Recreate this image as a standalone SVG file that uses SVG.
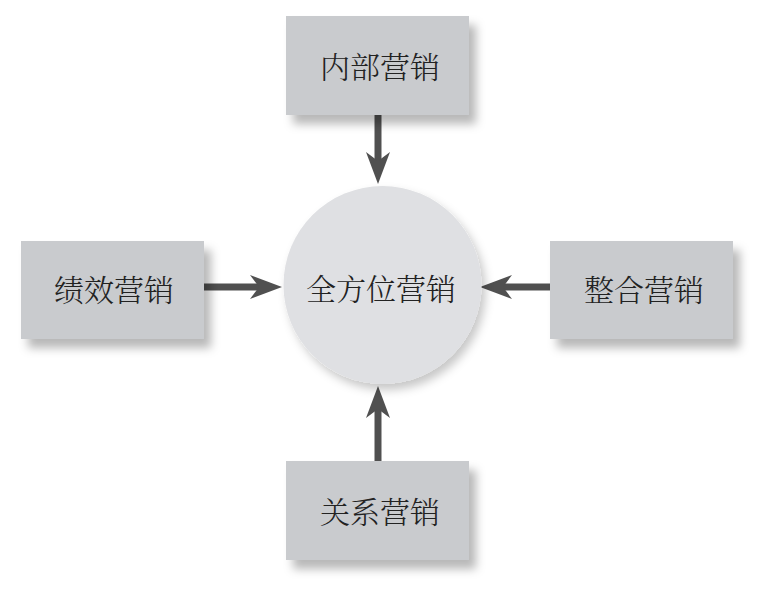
<svg xmlns="http://www.w3.org/2000/svg" width="779" height="598" viewBox="0 0 779 598">
<defs>
<filter id="sh" x="-20%" y="-20%" width="150%" height="160%">
<feDropShadow dx="7" dy="9" stdDeviation="5" flood-color="#000" flood-opacity="0.28"/>
</filter>
<filter id="shc" x="-20%" y="-20%" width="150%" height="150%">
<feDropShadow dx="4" dy="6" stdDeviation="5" flood-color="#000" flood-opacity="0.22"/>
</filter>
<marker id="ah" markerUnits="userSpaceOnUse" markerWidth="32" markerHeight="26" viewBox="0 0 32 26" refX="18" refY="13" orient="auto">
<path d="M0,1 L32,13 L0,25 L9,13 Z" fill="#505050"/>
</marker>
<style>
.box{fill:#c9cbce;filter:url(#sh)}
.circ{fill:#dfe0e3;filter:url(#shc)}
.lbl{font-family:"Noto Serif CJK SC","Noto Sans CJK SC",serif;font-size:30px;fill:#222;text-anchor:middle;dominant-baseline:central;font-weight:300}
.con{stroke:#505050;stroke-width:7;fill:none;marker-end:url(#ah)}
</style>
</defs>
<rect width="779" height="598" fill="#fff"/>
<g id="connectors">
<line class="con" x1="378" y1="115" x2="378" y2="170"/>
<line class="con" x1="204" y1="287" x2="268" y2="287"/>
<line class="con" x1="550" y1="287" x2="494" y2="287"/>
<line class="con" x1="378" y1="461" x2="378" y2="400"/>
</g>
<g id="center">
<circle class="circ" cx="382.5" cy="285" r="99"/>
<text class="lbl" x="381" y="287">全方位营销</text>
</g>
<g id="internal">
<rect class="box" x="286" y="16" width="183" height="99"/>
<text class="lbl" x="380" y="65">内部营销</text>
</g>
<g id="performance">
<rect class="box" x="21" y="241" width="183" height="98"/>
<text class="lbl" x="114" y="288">绩效营销</text>
</g>
<g id="integrated">
<rect class="box" x="550" y="241" width="183" height="98"/>
<text class="lbl" x="644" y="288">整合营销</text>
</g>
<g id="relationship">
<rect class="box" x="286" y="461" width="183" height="99"/>
<text class="lbl" x="380" y="510">关系营销</text>
</g>
</svg>
